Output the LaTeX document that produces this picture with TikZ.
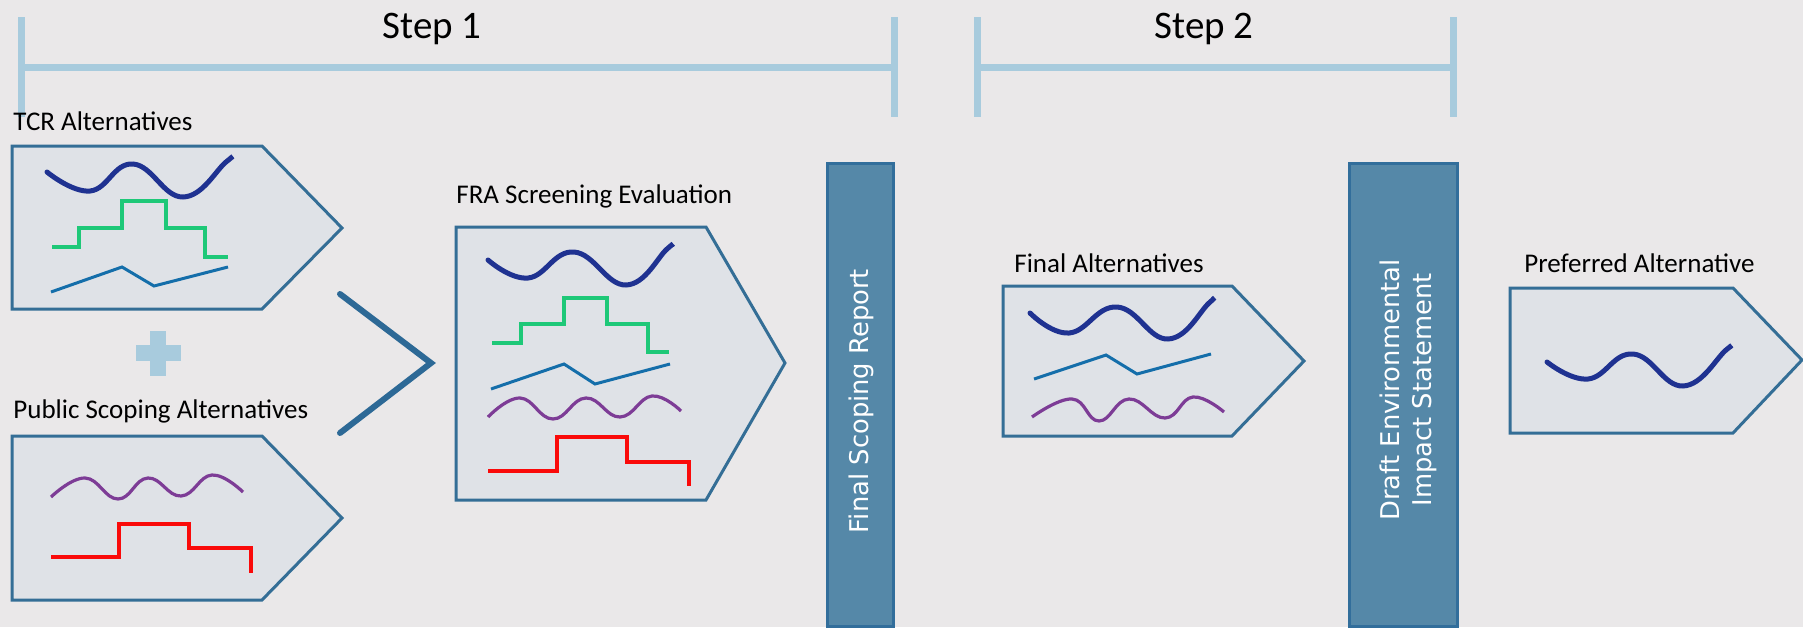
\documentclass[tikz,border=0pt]{standalone}
\usepackage{fontspec}
\setmainfont{Carlito}
\newfontfamily\barfont{DejaVu Sans}
\definecolor{bgc}{RGB}{234,232,233}
\definecolor{boxfill}{RGB}{223,226,231}
\definecolor{boxline}{RGB}{52,110,150}
\definecolor{barfill}{RGB}{85,136,168}
\definecolor{barline}{RGB}{50,110,155}
\definecolor{tlc}{RGB}{168,203,221}
\definecolor{navyc}{RGB}{31,50,145}
\definecolor{greenc}{RGB}{30,200,120}
\definecolor{bluec}{RGB}{20,110,170}
\definecolor{purplec}{RGB}{125,60,150}
\definecolor{redc}{RGB}{250,10,10}
\definecolor{chevc}{RGB}{45,105,150}
\begin{document}
\begin{tikzpicture}[x=0.5pt,y=-0.5pt,
  timeline/.style={draw=tlc, line width=3.5pt},
  altbox/.style={draw=boxline, fill=boxfill, line width=1.5pt, line join=miter},
  barbox/.style={draw=barline, fill=barfill, line width=1.5pt},
  lbl/.style={anchor=base west, inner sep=0pt, font=\fontsize{13.5}{16}\selectfont},
  steplbl/.style={anchor=base, inner sep=0pt, font=\fontsize{19.5}{23}\selectfont},
  bartext/.style={rotate=90, inner sep=0pt, text=white, align=center, font=\barfont\fontsize{12.9}{16}\selectfont},
  navywave/.style={draw=navyc, line width=2.5pt, line cap=round},
  greenline/.style={draw=greenc, line width=1.8pt},
  blueline/.style={draw=bluec, line width=1.5pt},
  purplewave/.style={draw=purplec, line width=1.6pt},
  redline/.style={draw=redc, line width=1.8pt},
  chevline/.style={draw=chevc, line width=3pt, line cap=round, line join=miter},
  plusfill/.style={fill=tlc}
]
\useasboundingbox (0,0) rectangle (1803,627);
\fill[bgc] (0,0) rectangle (1803,627);

% timelines
\coordinate (s1l) at (21,67); \coordinate (s1r) at (894,67);
\coordinate (s2l) at (977,67); \coordinate (s2r) at (1453,67);
\draw[timeline] (s1l) -- (s1r);
\draw[timeline] ([yshift=25]s1l) -- ([yshift=-25]s1l);
\draw[timeline] ([yshift=25]s1r) -- ([yshift=-25]s1r);
\draw[timeline] (s2l) -- (s2r);
\draw[timeline] ([yshift=25]s2l) -- ([yshift=-25]s2l);
\draw[timeline] ([yshift=25]s2r) -- ([yshift=-25]s2r);
\node[steplbl] (step1) at (432,38) {Step 1};
\node[steplbl] (step2) at (1204,38) {Step 2};

% labels
\node[lbl] (tcrlbl) at (13,130) {TCR Alternatives};
\node[lbl] (publbl) at (13,418) {Public Scoping Alternatives};
\node[lbl] (fralbl) at (456,203) {FRA Screening Evaluation};
\node[lbl] (finlbl) at (1014,272) {Final Alternatives};
\node[lbl] (preflbl) at (1524,272) {Preferred Alternative};

% TCR box
\draw[altbox] (12,146) -- (262,146) -- (342,228) -- (262,309) -- (12,309) -- cycle;
\draw[navywave] plot[smooth, tension=0.75] coordinates {(47,172) (90,191) (133,164) (183,197) (226,162) (232,157)};
\draw[greenline] (52,247) -- (79,247) -- (79,228) -- (122,228) -- (122,201) -- (166,201) -- (166,228) -- (205,228) -- (205,257) -- (228,257);
\draw[blueline] (51,292) -- (122,267) -- (154,286) -- (228,267);

% plus
\fill[plusfill] (150,331) rectangle (166,376);
\fill[plusfill] (136,345) rectangle (181,361);

% Public box
\draw[altbox] (12,436) -- (262,436) -- (342,518) -- (262,600) -- (12,600) -- cycle;
\draw[purplewave] plot[smooth, tension=0.75] coordinates {(51,497) (85,478) (118,499) (148,478) (181,496) (212,475) (243,492)};
\draw[redline] (51,557) -- (119,557) -- (119,524) -- (189,524) -- (189,548) -- (251,548) -- (251,573);

% chevron
\draw[chevline] (340,294) -- (431,363) -- (340,433);

% FRA box
\draw[altbox] (456,227) -- (706,227) -- (785,363) -- (706,500) -- (456,500) -- cycle;
\draw[navywave] plot[smooth, tension=0.75] coordinates {(488,260) (528,278) (574,252) (626,285) (667,249) (672,245)};
\draw[greenline] (492,343) -- (521,343) -- (521,324) -- (564,324) -- (564,298) -- (607,298) -- (607,324) -- (648,324) -- (648,352) -- (669,352);
\draw[blueline] (491,389) -- (564,364) -- (595,384) -- (670,364);
\draw[purplewave] plot[smooth, tension=0.75] coordinates {(488,417) (520,398) (553,419) (586,398) (620,417) (652,396) (681,411)};
\draw[redline] (488,471) -- (557,471) -- (557,437) -- (627,437) -- (627,462) -- (689,462) -- (689,486);

% Final scoping bar
\draw[barbox] (827,163) rectangle (893,626);
\node[bartext] (fsr) at (861,401) {Final Scoping Report};

% Final Alternatives box
\draw[altbox] (1003,286) -- (1232,286) -- (1304,361) -- (1232,436) -- (1003,436) -- cycle;
\draw[navywave] plot[smooth, tension=0.75] coordinates {(1030,313) (1069,333) (1117,307) (1168,339) (1209,303) (1213,299)};
\draw[blueline] (1034,379) -- (1106,355) -- (1137,374) -- (1211,354);
\draw[purplewave] plot[smooth, tension=0.75] coordinates {(1032,417) (1072,399) (1099,421) (1129,399) (1165,418) (1193,397) (1224,412)};

% Draft EIS bar
\draw[barbox] (1349,163) rectangle (1457,626);
\node[bartext] (deis) at (1408,390) {Draft Environmental\\Impact Statement};

% Preferred box
\draw[altbox] (1510,288) -- (1733,288) -- (1802,360) -- (1733,433) -- (1510,433) -- cycle;
\draw[navywave] plot[smooth, tension=0.75] coordinates {(1547,362) (1588,379) (1633,354) (1683,386) (1726,350) (1730,347)};
\end{tikzpicture}
\end{document}
